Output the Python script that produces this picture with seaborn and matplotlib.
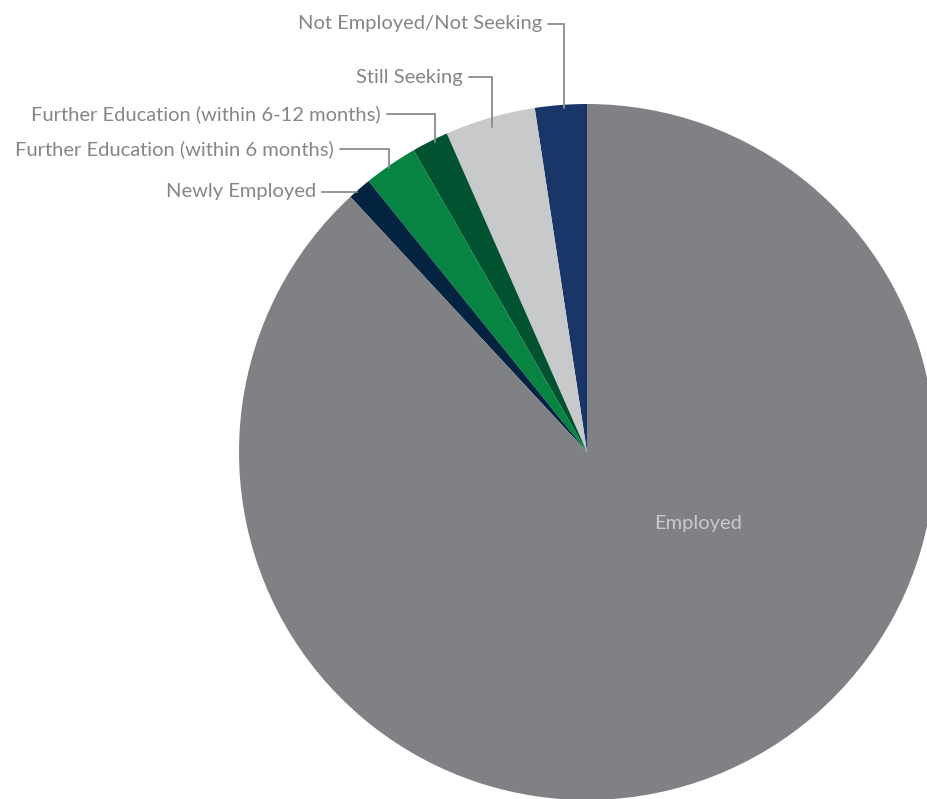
import numpy as np
import matplotlib
matplotlib.use("Agg")
import matplotlib.pyplot as plt
import seaborn as sns

# slices, counter-clockwise from 12 o'clock
labels = ["Not Employed/Not Seeking", "Still Seeking",
          "Further Education (within 6-12 months)",
          "Further Education (within 6 months)",
          "Newly Employed", "Employed"]
shares = [2.4, 4.2, 1.7, 2.5, 1.1, 88.1]
colors = ["#1a3668", "#c8c9cb", "#005230", "#078442", "#032340", "#808185"]

sns.set_theme(style="white")
plt.rcParams["font.family"] = ["Lato", "DejaVu Sans"]

W, H = 928, 799
fig = plt.figure(figsize=(W / 100, H / 100), dpi=100)
ax = fig.add_axes([0, 0, 1, 1])

cx, cy, r = 587, H - 452, 348
wedges, _ = ax.pie(shares, colors=colors, startangle=90, counterclock=True,
                   center=(cx, cy), radius=r, wedgeprops=dict(linewidth=0))
ax.set_xlim(0, W)
ax.set_ylim(0, H)
ax.set_aspect("equal")
ax.axis("off")

txt_col = "#85868a"
line_col = "#8a8b8e"
fs = 14.5

# leader layout (pixel space, from top): text right end x, y, elbow x, depth into wedge
leaders = [
    (542, 24, 564, 3),
    (463, 77, 492, 10),
    (381, 114, 435, 3),
    (334, 149, 389, 2),
]
for (tx, ty, ex, d), lab in zip(leaders, labels[:4]):
    y = H - ty
    yarc = cy + np.sqrt(r ** 2 - (ex - cx) ** 2)
    ax.plot([tx + 6, ex, ex], [y, y, yarc - d], color=line_col, lw=1.3,
            solid_joinstyle="miter")
    ax.text(tx, y, lab, ha="right", va="center", fontsize=fs, color=txt_col)

# Newly Employed: horizontal leader only
ty = 192
y = H - ty
xarc = cx - np.sqrt(r ** 2 - (y - cy) ** 2)
ax.plot([322, xarc + 1], [y, y], color=line_col, lw=1.3)
ax.text(316, y, labels[4], ha="right", va="center", fontsize=fs, color=txt_col)

ax.text(698, H - 523, labels[5], ha="center", va="center", fontsize=fs,
        color="#c8c9cb")

fig.savefig("out.png", dpi=100)
